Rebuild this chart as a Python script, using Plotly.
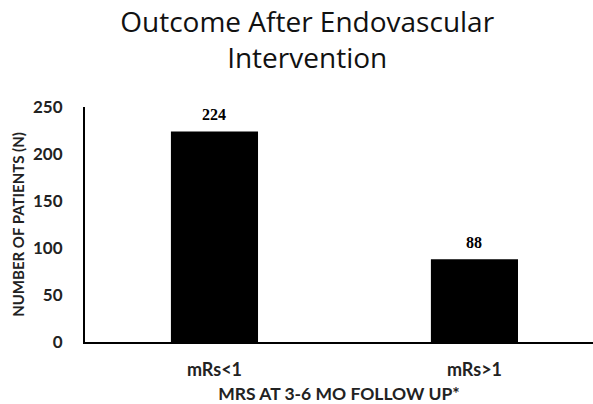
import plotly.graph_objects as go

categories = ["mRs<1", "mRs>1"]
patients = [224, 88]
y_ticks = [0, 50, 100, 150, 200, 250]

font_sans = "Lato, 'Open Sans', sans-serif"

fig = go.Figure(go.Bar(
    x=categories, y=patients,
    marker=dict(color="black", line=dict(width=0)),
    width=0.335,
    hoverinfo="x+y",
))

for c, v in zip(categories, patients):
    fig.add_annotation(
        x=c, y=v, text=f"<b>{v}</b>", showarrow=False,
        yanchor="bottom", yshift=6,
        font=dict(family="Liberation Serif", size=16, color="black"),
    )

fig.update_layout(
    width=593, height=404,
    margin=dict(l=85, r=0, t=107, b=62, autoexpand=False),
    paper_bgcolor="white", plot_bgcolor="white",
    showlegend=False,
    title=dict(
        text="Outcome After Endovascular<br>Intervention",
        x=0.518, xanchor="center", y=0.922, yanchor="top",
        font=dict(family="'Open Sans', sans-serif", size=28, color="#111"),
    ),
    xaxis=dict(
        range=[-0.498, 1.456], automargin=False,
        showline=True, linecolor="black", linewidth=2,
        ticks="", showgrid=False,
        tickfont=dict(family=font_sans, size=18, color="#222", weight="bold"),
        ticklabelstandoff=10,
        title=dict(text="MRS AT 3-6 MO FOLLOW UP*", standoff=11,
                   font=dict(family=font_sans, size=17.5, color="#222", weight="bold")),
    ),
    yaxis=dict(
        range=[0, 250], tickvals=y_ticks, automargin=False,
        showline=True, linecolor="black", linewidth=2,
        ticks="", showgrid=False, zeroline=False,
        tickfont=dict(family=font_sans, size=17, color="#222", weight="bold"),
        ticklabelstandoff=17,
        title=dict(text="NUMBER OF PATIENTS (N)", standoff=5,
                   font=dict(family=font_sans, size=15, color="#222", weight="bold")),
    ),
)

fig.write_html("out.html", config={"displayModeBar": False},
               post_script="document.body.style.margin='0';document.body.style.padding='0';")
